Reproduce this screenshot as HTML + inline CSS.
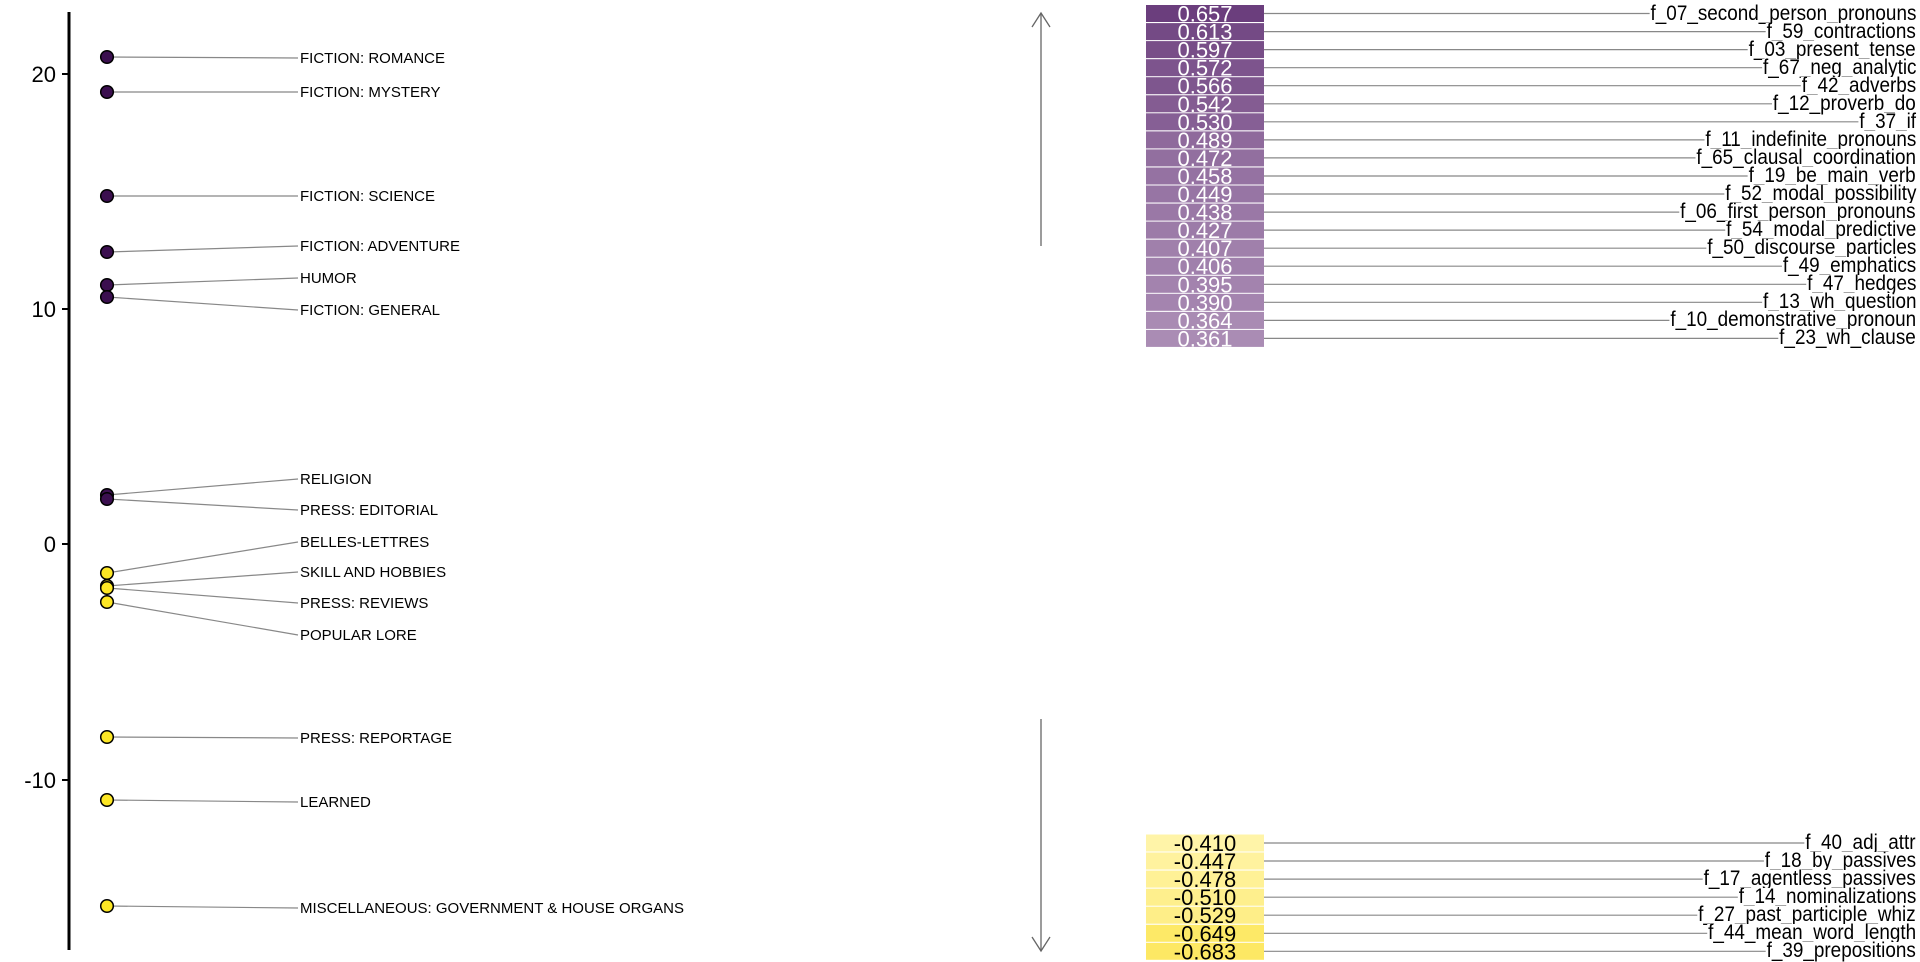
<!DOCTYPE html>
<html><head><meta charset="utf-8"><style>
html,body{margin:0;padding:0;background:#fff}
svg{display:block;position:absolute;left:0;top:0}
.lab{font-family:"Liberation Sans",sans-serif;font-size:15px;fill:#000}
.tk{font-family:"Liberation Sans",sans-serif;font-size:22px;fill:#000}
.bv{font-family:"Liberation Sans",sans-serif;font-size:22px;text-anchor:middle}
.fl{position:absolute;right:4px;height:18px;line-height:18px;font-family:"Liberation Sans",sans-serif;font-size:21px;background:#fff;padding-left:1px;transform:scaleX(0.9);transform-origin:right center;white-space:nowrap}
</style></head><body>
<svg width="1920" height="960" viewBox="0 0 1920 960" xmlns="http://www.w3.org/2000/svg">
<line x1="69" y1="12" x2="69" y2="950" stroke="#000" stroke-width="3"/>
<g stroke="#000" stroke-width="2">
<line x1="62" y1="74" x2="69" y2="74"/><line x1="62" y1="309" x2="69" y2="309"/>
<line x1="62" y1="544" x2="69" y2="544"/><line x1="62" y1="780" x2="69" y2="780"/>
</g>
<g class="tk" text-anchor="end">
<text x="56" y="82">20</text><text x="56" y="317">10</text><text x="56" y="552">0</text><text x="56" y="788">-10</text>
</g>
<g stroke="#888" stroke-width="1.2">
<line x1="107" y1="57" x2="298" y2="58"/>
<line x1="107" y1="92" x2="298" y2="92"/>
<line x1="107" y1="196" x2="298" y2="196"/>
<line x1="107" y1="252" x2="298" y2="246"/>
<line x1="107" y1="285" x2="298" y2="278"/>
<line x1="107" y1="297" x2="298" y2="310"/>
<line x1="107" y1="495" x2="298" y2="479"/>
<line x1="107" y1="499" x2="298" y2="510"/>
<line x1="107" y1="573" x2="298" y2="542"/>
<line x1="107" y1="586" x2="298" y2="572"/>
<line x1="107" y1="588" x2="298" y2="603"/>
<line x1="107" y1="602" x2="298" y2="635"/>
<line x1="107" y1="737" x2="298" y2="738"/>
<line x1="107" y1="800" x2="298" y2="802"/>
<line x1="107" y1="906" x2="298" y2="908"/>
</g>
<g stroke="#000" stroke-width="1.5">
<g fill="#3b0f4f">
<circle cx="107" cy="57" r="6.3"/><circle cx="107" cy="92" r="6.3"/><circle cx="107" cy="196" r="6.3"/>
<circle cx="107" cy="252" r="6.3"/><circle cx="107" cy="285" r="6.3"/><circle cx="107" cy="297" r="6.3"/>
<circle cx="107" cy="495" r="6.3"/><circle cx="107" cy="499" r="6.3"/>
</g>
<g fill="#fde725">
<circle cx="107" cy="573" r="6.3"/><circle cx="107" cy="586" r="6.3"/><circle cx="107" cy="588" r="6.3"/>
<circle cx="107" cy="602" r="6.3"/><circle cx="107" cy="737" r="6.3"/><circle cx="107" cy="800" r="6.3"/>
<circle cx="107" cy="906" r="6.3"/>
</g>
</g>
<g class="lab">
<text x="300" y="63">FICTION: ROMANCE</text>
<text x="300" y="97">FICTION: MYSTERY</text>
<text x="300" y="201">FICTION: SCIENCE</text>
<text x="300" y="251">FICTION: ADVENTURE</text>
<text x="300" y="283">HUMOR</text>
<text x="300" y="315">FICTION: GENERAL</text>
<text x="300" y="484">RELIGION</text>
<text x="300" y="515">PRESS: EDITORIAL</text>
<text x="300" y="547">BELLES-LETTRES</text>
<text x="300" y="577">SKILL AND HOBBIES</text>
<text x="300" y="608">PRESS: REVIEWS</text>
<text x="300" y="640">POPULAR LORE</text>
<text x="300" y="743">PRESS: REPORTAGE</text>
<text x="300" y="807">LEARNED</text>
<text x="300" y="913">MISCELLANEOUS: GOVERNMENT &amp; HOUSE ORGANS</text>
</g>
<g stroke="#666" stroke-width="1.3" fill="none">
<line x1="1041" y1="13" x2="1041" y2="246"/>
<polyline points="1032,27 1041,13 1050,27"/>
<line x1="1041" y1="719" x2="1041" y2="951"/>
<polyline points="1032,937 1041,951 1050,937"/>
</g>
<g>
<rect x="1146" y="5" width="118" height="17" fill="rgb(107,62,125)"/>
<rect x="1146" y="23.1" width="118" height="17" fill="rgb(116,74,133)"/>
<rect x="1146" y="41.1" width="118" height="17" fill="rgb(120,78,136)"/>
<rect x="1146" y="59.2" width="118" height="17" fill="rgb(125,84,141)"/>
<rect x="1146" y="77.2" width="118" height="17" fill="rgb(126,86,142)"/>
<rect x="1146" y="95.3" width="118" height="17" fill="rgb(132,92,146)"/>
<rect x="1146" y="113.3" width="118" height="17" fill="rgb(134,95,149)"/>
<rect x="1146" y="131.4" width="118" height="17" fill="rgb(143,106,156)"/>
<rect x="1146" y="149.4" width="118" height="17" fill="rgb(146,111,159)"/>
<rect x="1146" y="167.5" width="118" height="17" fill="rgb(149,114,162)"/>
<rect x="1146" y="185.5" width="118" height="17" fill="rgb(151,117,164)"/>
<rect x="1146" y="203.6" width="118" height="17" fill="rgb(154,120,166)"/>
<rect x="1146" y="221.6" width="118" height="17" fill="rgb(156,123,168)"/>
<rect x="1146" y="239.7" width="118" height="17" fill="rgb(160,128,171)"/>
<rect x="1146" y="257.7" width="118" height="17" fill="rgb(160,128,172)"/>
<rect x="1146" y="275.8" width="118" height="17" fill="rgb(163,131,174)"/>
<rect x="1146" y="293.8" width="118" height="17" fill="rgb(164,132,175)"/>
<rect x="1146" y="311.9" width="118" height="17" fill="rgb(169,139,179)"/>
<rect x="1146" y="329.9" width="118" height="17" fill="rgb(170,140,180)"/>
</g>
<g>
<rect x="1146" y="834.5" width="118" height="17" fill="rgb(255,244,168)"/>
<rect x="1146" y="852.5" width="118" height="17" fill="rgb(255,242,158)"/>
<rect x="1146" y="870.6" width="118" height="17" fill="rgb(255,241,150)"/>
<rect x="1146" y="888.7" width="118" height="17" fill="rgb(254,239,141)"/>
<rect x="1146" y="906.7" width="118" height="17" fill="rgb(254,238,136)"/>
<rect x="1146" y="924.8" width="118" height="17" fill="rgb(253,233,103)"/>
<rect x="1146" y="942.8" width="118" height="17" fill="rgb(253,232,100)"/>
</g>
<g class="bv" fill="#fff">
<text x="1205" y="21.5">0.657</text><text x="1205" y="39.6">0.613</text><text x="1205" y="57.6">0.597</text>
<text x="1205" y="75.7">0.572</text><text x="1205" y="93.7">0.566</text><text x="1205" y="111.8">0.542</text>
<text x="1205" y="129.8">0.530</text><text x="1205" y="147.9">0.489</text><text x="1205" y="165.9">0.472</text>
<text x="1205" y="184">0.458</text><text x="1205" y="202">0.449</text><text x="1205" y="220.1">0.438</text>
<text x="1205" y="238.1">0.427</text><text x="1205" y="256.2">0.407</text><text x="1205" y="274.2">0.406</text>
<text x="1205" y="292.3">0.395</text><text x="1205" y="310.3">0.390</text><text x="1205" y="328.4">0.364</text>
<text x="1205" y="346.4">0.361</text>
</g>
<g class="bv" fill="#000">
<text x="1205" y="851">-0.410</text><text x="1205" y="869">-0.447</text><text x="1205" y="887.1">-0.478</text>
<text x="1205" y="905.2">-0.510</text><text x="1205" y="923.2">-0.529</text><text x="1205" y="941.3">-0.649</text>
<text x="1205" y="959.3">-0.683</text>
</g>
<g stroke="#888" stroke-width="1.2">
<line x1="1264" y1="13.5" x2="1910" y2="13.5"/>
<line x1="1264" y1="31.6" x2="1910" y2="31.6"/>
<line x1="1264" y1="49.6" x2="1910" y2="49.6"/>
<line x1="1264" y1="67.7" x2="1910" y2="67.7"/>
<line x1="1264" y1="85.7" x2="1910" y2="85.7"/>
<line x1="1264" y1="103.8" x2="1910" y2="103.8"/>
<line x1="1264" y1="121.8" x2="1910" y2="121.8"/>
<line x1="1264" y1="139.9" x2="1910" y2="139.9"/>
<line x1="1264" y1="157.9" x2="1910" y2="157.9"/>
<line x1="1264" y1="176" x2="1910" y2="176"/>
<line x1="1264" y1="194" x2="1910" y2="194"/>
<line x1="1264" y1="212.1" x2="1910" y2="212.1"/>
<line x1="1264" y1="230.1" x2="1910" y2="230.1"/>
<line x1="1264" y1="248.2" x2="1910" y2="248.2"/>
<line x1="1264" y1="266.2" x2="1910" y2="266.2"/>
<line x1="1264" y1="284.3" x2="1910" y2="284.3"/>
<line x1="1264" y1="302.3" x2="1910" y2="302.3"/>
<line x1="1264" y1="320.4" x2="1910" y2="320.4"/>
<line x1="1264" y1="338.4" x2="1910" y2="338.4"/>
<line x1="1264" y1="843" x2="1910" y2="843"/>
<line x1="1264" y1="861" x2="1910" y2="861"/>
<line x1="1264" y1="879.1" x2="1910" y2="879.1"/>
<line x1="1264" y1="897.2" x2="1910" y2="897.2"/>
<line x1="1264" y1="915.2" x2="1910" y2="915.2"/>
<line x1="1264" y1="933.3" x2="1910" y2="933.3"/>
<line x1="1264" y1="951.3" x2="1910" y2="951.3"/>
</g>
</svg>
<div class="fl" style="top:4.5px">f_07_second_person_pronouns</div>
<div class="fl" style="top:22.6px">f_59_contractions</div>
<div class="fl" style="top:40.6px">f_03_present_tense</div>
<div class="fl" style="top:58.7px">f_67_neg_analytic</div>
<div class="fl" style="top:76.7px">f_42_adverbs</div>
<div class="fl" style="top:94.8px">f_12_proverb_do</div>
<div class="fl" style="top:112.8px">f_37_if</div>
<div class="fl" style="top:130.9px">f_11_indefinite_pronouns</div>
<div class="fl" style="top:148.9px">f_65_clausal_coordination</div>
<div class="fl" style="top:167px">f_19_be_main_verb</div>
<div class="fl" style="top:185px">f_52_modal_possibility</div>
<div class="fl" style="top:203.1px">f_06_first_person_pronouns</div>
<div class="fl" style="top:221.1px">f_54_modal_predictive</div>
<div class="fl" style="top:239.2px">f_50_discourse_particles</div>
<div class="fl" style="top:257.2px">f_49_emphatics</div>
<div class="fl" style="top:275.3px">f_47_hedges</div>
<div class="fl" style="top:293.3px">f_13_wh_question</div>
<div class="fl" style="top:311.4px">f_10_demonstrative_pronoun</div>
<div class="fl" style="top:329.4px">f_23_wh_clause</div>
<div class="fl" style="top:834px">f_40_adj_attr</div>
<div class="fl" style="top:852px">f_18_by_passives</div>
<div class="fl" style="top:870.1px">f_17_agentless_passives</div>
<div class="fl" style="top:888.2px">f_14_nominalizations</div>
<div class="fl" style="top:906.2px">f_27_past_participle_whiz</div>
<div class="fl" style="top:924.3px">f_44_mean_word_length</div>
<div class="fl" style="top:942.3px">f_39_prepositions</div>
</body></html>
